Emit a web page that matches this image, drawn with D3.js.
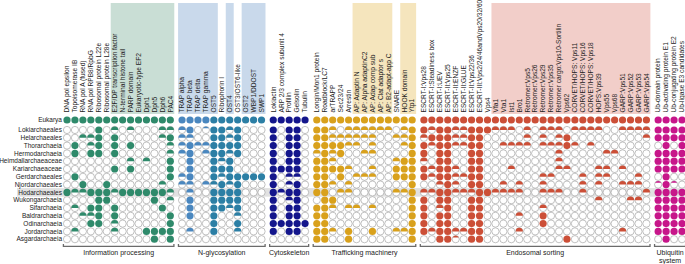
<!DOCTYPE html>
<html><head><meta charset="utf-8">
<script src="https://cdn.jsdelivr.net/npm/d3@7"></script>
<style>
body{margin:0;background:#fff}
svg{display:block}
</style>
</head><body>
<svg id="chart" width="685" height="264"></svg>
<script>
// ---------------- DATA ----------------
const taxa = ["Eukarya","Lokiarchaeales","Helarchaeales","Thorarchaeia","Hermodarchaeia",
  "Heimdallarchaeaceae","Kariarchaeaceae","Gerdarchaeales","Njordarchaeales","Hodarchaeales",
  "Wukongarchaeia","Sifarchaeia","Baldrarchaeia","Odinarchaeia","Jordarchaeia","Asgardarchaeia"];
const highlightedTaxon = "Hodarchaeales";

const groupNames = ["Information processing","N-glycosylation","Cytoskeleton","Trafficking machinery","Endosomal sorting","Ubiquitin system"];

const infoCols = ["DNA pol epsilon","Topoisomerase IB","RNA pol A (fused)","RNA pol RPB8/RpbG",
  "Ribosomal protein L22e","Ribosomal protein L28e","E2F/DP transcription factor","N-terminal histone tail",
  "PARP domain","Eukaryotic-type EF2","Dph1","Dph5","Dph6","PAC4"];
const glycoCols = ["TRAP alpha","TRAP beta","TRAP delta","TRAP gamma","OST5","Ribophorin I","OST4",
  "OST3/OST6-like","OST2","WBP1/DDOST","SWP1"];
const cytoCols = ["Lokiactin","ARP 2/3 complex subunit 4","Profilin","Gelsolin","Tubulin"];
const traffCols = ["Longin/Mon1 protein","Roadblock/LC7","arTRAPP","Sec23/24","Arrestin","AP: Adaptin N",
  "AP: Alpha adaptinC2","AP: Adap comp sub","AP: Clat adaptor s","AP: B2-adapt-app C","SNARE","HOOK domain","Ytp1"];
const endoCols = ["ESCRT-I:Vps28","ESCRT-I:Steadiness box","ESCRT-I:UEV","ESCRT-II:Vps25","ESCRT-II:ENZF",
  "ESCRT-II:GLUE","ESCRT-II:Vps22/36","ESCRT-III:Vps2/24/46andVps20/32/60","Vps4","Vfa1","Vta1","Ist1","Bro1",
  "Retromer:Vps5","Retromer:Vps26","Retromer:Vps29","Retromer:Vps35","Retromer cargo:Vps10-Sortilin","Vps62",
  "CORVET/HOPS: Vps11","CORVET/HOPS: Vps16","CORVET/HOPS: Vps18","HOPS:Vps39","Vps55","Vps68",
  "GARP:Vps51","GARP:Vps52","GARP:Vps53","GARP:Vps54"];
const ubiCols = ["Ub-domain protein","Ub-activating protein E1","Ub-conjugating protein E2","Ub-ligase E3 candidates"];

// shaded header columns
const shadedCols = ["E2F/DP transcription factor","N-terminal histone tail","PARP domain","Eukaryotic-type EF2","Dph1","Dph5","Dph6","PAC4",
  "TRAP alpha","TRAP beta","TRAP delta","TRAP gamma","OST5","OST4","OST2","WBP1/DDOST","SWP1",
  "AP: Adaptin N","AP: Alpha adaptinC2","AP: Adap comp sub","AP: Clat adaptor s","AP: B2-adapt-app C","HOOK domain","Ytp1",
  "Vfa1","Vta1","Ist1","Bro1","Retromer:Vps5","Retromer:Vps26","Retromer:Vps29","Retromer:Vps35","Retromer cargo:Vps10-Sortilin","Vps62",
  "CORVET/HOPS: Vps11","CORVET/HOPS: Vps16","CORVET/HOPS: Vps18","HOPS:Vps39","Vps55","Vps68","GARP:Vps51","GARP:Vps52","GARP:Vps53","GARP:Vps54"];

// presence codes per taxon (row order = taxa): 1 = all, h = half, q = few, 0 = absent
const infoValues = [
  "11111111111111",
  "000010h0h000hh",
  "00hh10100000h1",
  "010h101010000h",
  "0101101000000h",
  "00000000h0h001",
  "00000010100001",
  "01000000000001",
  "001001000000h0",
  "1hh111h111111h",
  "0000110000010h",
  "0h011010000010",
  "00hh1010000001",
  "000110h0000001",
  "0h0000h0001111",
  "00000000000101"];
const glycoValues = [
  "11111111111",
  "h10q11h1000",
  "hh0011h1000",
  "h1hh1111000",
  "h10h11h1000",
  "01001h10000",
  "01001110000",
  "h1001h11111",
  "hh0hh1h1000",
  "0h001111000",
  "01001111000",
  "010011h1000",
  "0100100h000",
  "00001001000",
  "0h00100h000",
  "00000000000"];
const cytoValues = [
  "11111","10110","10110","10110","10110","10110","11110","10hh0","10h10",
  "1h110","10h10","10110","10110","11111","10110","00000"];
const traffValues = [
  "1111111111111",
  "11h0hhhhhh0h1",
  "11hhhhhh00hh1",
  "1111hh0h000h1",
  "h1h100hh00001",
  "11h0000000h11",
  "1111h00h00111",
  "11010hhh00111",
  "11h0h00000001",
  "110hh00000hh1",
  "0110000000001",
  "11h0hh0h00001",
  "1100000000001",
  "1100000000001",
  "11h0100100hh1",
  "1100100000001"];
const endoValues = [
  "11111111111111111111111111111",
  "1h11hh111h" + "hh0h0hhh0hhhh00hhhh",
  "h111hh1100" + "000h0h0h1000000000h",
  "1h11hh1100" + "hhhh0hhh1h0h0000000",
  "1011001100" + "0000000h00000hh0000",
  "h011001100" + "0000000h00000000000",
  "1h11h01100" + "0h00000hh000hh0h000",
  "1h11hh1100" + "00000hh000h0hh000h0",
  "00h1h01100" + "h0h00h0000h0h00hhh0",
  "hh11hhh11h" + "hhh00hhh00h0000000h",
  "1011001100" + "000000000000h000hh0",
  "10h1001100" + "00000h0000000000000",
  "1011001100" + "00h0010000000000000",
  "1011001100" + "0000010000000000000",
  "1h11hh1100" + "00h000000000000h000",
  "0011q01100" + "0000000010000000000"];
const ubiValues = [
  "1111","1111","1111","0101","1111","1111","1111","0100","q1q0",
  "1111","1111","1111","1111","1111","1111","0100"];

const codeFraction = {"0":0, "q":0.25, "h":0.5, "t":0.75, "1":1};

// ---------------- STYLE ----------------
const FONT = "'Liberation Sans', Arial, Helvetica, sans-serif";
const TEXT = "#222222";
const groupColors = ["#2f8a6b","#2c7fa5","#14168c","#d9a11c","#cc4f37","#c7168a"];
const altColor = {"TRAP alpha":"#4a87bf","TRAP beta":"#4a87bf","TRAP delta":"#4a87bf","TRAP gamma":"#4a87bf"};
const boxFills = ["#c9ded5","#c9d9eb","#c9d9eb","#f5e5bd","#f2cec9","#f2cec9"];

// ---------------- BUILD ----------------
const groupCols = [infoCols, glycoCols, cytoCols, traffCols, endoCols, ubiCols];
const groupVals = [infoValues, glycoValues, cytoValues, traffValues, endoValues, ubiValues];

const columns = [];
groupCols.forEach((cols, g) => cols.forEach((name, j) => {
  columns.push({name, g, j, unit: columns.length + g * 0.478});
}));
const nUnits = columns[columns.length - 1].unit;

const svg = d3.select("#chart");
const x = d3.scaleLinear().domain([0, nUnits]).range([67, 682]);
const step = x(1) - x(0);
const rowUnit = taxa.map((t, i) => i + (i > 0 ? 0.28 : 0));
const y = d3.scaleLinear().domain([0, rowUnit[rowUnit.length - 1]]).range([120, 239.2]);
const R = 3.6;

// header shaded boxes (merge contiguous shaded columns in same group)
const boxes = [];
columns.forEach((c, i) => {
  if (!shadedCols.includes(c.name)) return;
  const last = boxes[boxes.length - 1];
  const prev = columns[i - 1];
  if (last && prev && last.end === prev && prev.g === c.g) last.end = c;
  else boxes.push({start: c, end: c});
});
svg.append("g").selectAll("rect").data(boxes).join("rect")
  .attr("x", d => x(d.start.unit) - step / 2)
  .attr("width", d => x(d.end.unit) - x(d.start.unit) + step)
  .attr("y", 3).attr("height", 111)
  .attr("fill", d => boxFills[d.start.g]);

// highlighted row
const hi = taxa.indexOf(highlightedTaxon);
svg.append("rect").attr("x", 17).attr("width", 668)
  .attr("y", y(rowUnit[hi]) - 4.3).attr("height", 8.6).attr("fill", "#e1e1e1");

// column labels
svg.append("g").selectAll("text").data(columns).join("text")
  .attr("transform", d => `translate(${x(d.unit) + 2.3},112.5) rotate(-90)`)
  .attr("font-size", 6.6).attr("font-family", FONT).attr("fill", TEXT)
  .text(d => d.name);

// row labels
svg.append("g").selectAll("text").data(taxa).join("text")
  .attr("x", 62).attr("y", (d, i) => y(rowUnit[i]))
  .attr("dy", "0.35em").attr("text-anchor", "end")
  .attr("font-size", 6.5).attr("font-family", FONT).attr("fill", TEXT).text(d => d);

// cells
const cells = [];
taxa.forEach((t, r) => {
  columns.forEach(c => {
    const code = groupVals[c.g][r][c.j];
    cells.push({r, c, f: codeFraction[code]});
  });
});
const colorOf = c => altColor[c.name] || groupColors[c.g];

const cg = svg.append("g").selectAll("g").data(cells).join("g")
  .attr("transform", d => `translate(${x(d.c.unit)},${y(rowUnit[d.r])})`);
cg.filter(d => d.f < 1).append("circle").attr("r", R)
  .attr("fill", "#fff").attr("stroke", "#999999").attr("stroke-width", 0.6);
cg.filter(d => d.f > 0 && d.f < 1).append("path")
  .attr("d", d => {
    const h = d.f * 2 * R, yy = -R + h, w = Math.sqrt(Math.max(0, R * R - yy * yy));
    return `M${-w},${yy}A${R},${R} 0 ${h > R ? 1 : 0} 1 ${w},${yy}Z`;
  })
  .attr("fill", d => colorOf(d.c));
cg.filter(d => d.f >= 1).append("circle").attr("r", R).attr("fill", d => colorOf(d.c));

// group brackets and labels
const groups = groupNames.map((name, g) => {
  const cs = columns.filter(c => c.g === g);
  return {name, g, x0: x(cs[0].unit) - 3.6, x1: x(cs[cs.length - 1].unit) + 3.6};
});
svg.append("g").selectAll("path").data(groups).join("path")
  .attr("d", d => `M${d.x0},244V246.3H${d.x1}V244`)
  .attr("fill", "none").attr("stroke", "#6b6b6b").attr("stroke-width", 1.3);
const cx = d => (d.x0 + d.x1) / 2;
groups.forEach(d => {
  const lines = d.name === "Ubiquitin system" ? ["Ubiquitin", "system"] : [d.name];
  lines.forEach((line, k) => {
    svg.append("text").attr("x", cx(d)).attr("y", 254.5 + k * 8)
      .attr("text-anchor", "middle").attr("font-size", 7)
      .attr("font-family", FONT).style("fill", TEXT).text(line);
  });
});
</script>
</body></html>
